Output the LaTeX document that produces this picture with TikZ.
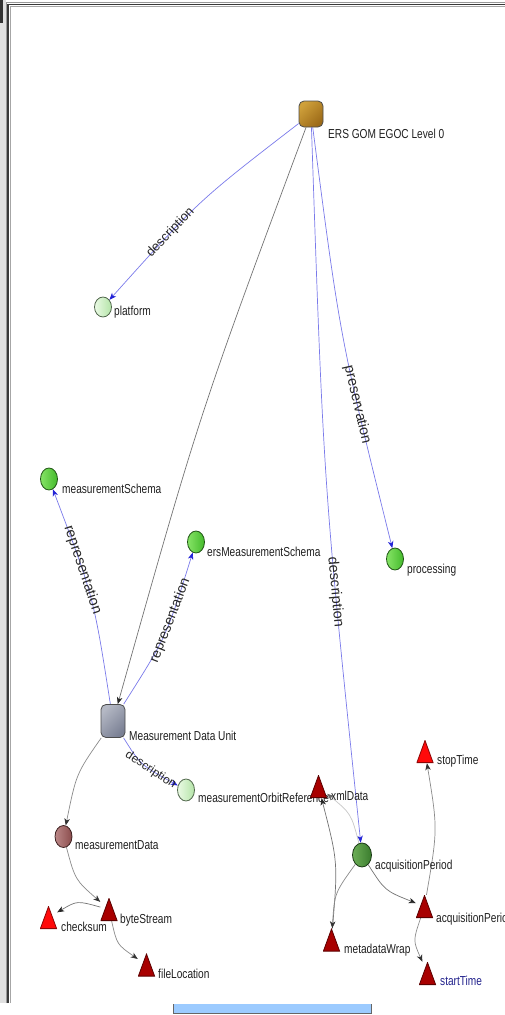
\documentclass[tikz,border=0pt]{standalone}
\usepackage{graphicx}
\usepackage{fontspec}
\setmainfont{Liberation Sans}
\usetikzlibrary{arrows.meta,calc,shapes.geometric}
\pgfdeclarelayer{bg}
\pgfsetlayers{bg,main}
\definecolor{ersA}{HTML}{CFA03A}
\definecolor{ersB}{HTML}{9C6A18}
\definecolor{mduA}{HTML}{B4B8C4}
\definecolor{mduB}{HTML}{7A8094}
\definecolor{lgA}{HTML}{EAFAE4}
\definecolor{lgB}{HTML}{B4E4A8}
\definecolor{gA}{HTML}{86E466}
\definecolor{gB}{HTML}{44BA2C}
\definecolor{dgA}{HTML}{6CAE56}
\definecolor{dgB}{HTML}{3A7C2E}
\definecolor{brA}{HTML}{BC8888}
\definecolor{brB}{HTML}{8A4C4C}
\definecolor{dred}{HTML}{A80000}
\definecolor{bred}{HTML}{FF0A0A}
\definecolor{edgeblue}{HTML}{7A7AEA}
\definecolor{tipblue}{HTML}{2424D6}
\definecolor{edgegray}{HTML}{8A8A8A}
\definecolor{tipgray}{HTML}{333333}
\definecolor{startblue}{HTML}{22228C}
\definecolor{barblue}{HTML}{9CCBFF}
\newcommand{\nlab}[1]{\scalebox{0.78}[1]{#1}}
\begin{document}
\begin{tikzpicture}[x=1pt,y=-1pt,
  qc/.style={to path={.. controls ($(\tikztostart)!0.5!(\tikztotarget)!#1!-90:(\tikztotarget)$) .. (\tikztotarget) \tikztonodes}},
  qc/.default=13pt,
  box/.style 2 args={rectangle, rounded corners=5pt, minimum width=24pt, inner sep=0pt,
    draw=black!70, line width=0.8pt, top color=#1, bottom color=#2, shading angle=45},
  circ/.style 2 args={ellipse, minimum width=17pt, minimum height=22pt, inner sep=0pt,
    draw=#2!45!black, line width=0.8pt, left color=#1, right color=#2},
  tri/.style={rectangle, minimum width=17pt, minimum height=23pt, inner sep=0pt,
    path picture={\filldraw[fill=#1, draw=#1!55!black, line width=0.8pt]
      ([yshift=-0.5pt]path picture bounding box.north)
      -- ([xshift=-0.4pt,yshift=0.4pt]path picture bounding box.south east)
      -- ([xshift=0.4pt,yshift=0.4pt]path picture bounding box.south west) -- cycle;}},
  lab/.style={anchor=base west, inner sep=0pt, font=\fontsize{13}{13}\selectfont, text=black!88},
  elab/.style={sloped, inner sep=0.5pt, font=\fontsize{#1}{#1}\selectfont, text=black!85},
  bluee/.style={draw=edgeblue, line width=0.7pt, -{Stealth[length=7pt,width=5.5pt,inset=2pt,color=tipblue]}},
  graye/.style={draw=edgegray, line width=0.7pt, -{Stealth[length=7pt,width=5.5pt,inset=2pt,color=tipgray]}},
  dgraye/.style={draw=black!55, line width=0.7pt, -{Stealth[length=7pt,width=5.5pt,inset=2pt,color=black!85]}},
  lgraye/.style={draw=black!22, line width=0.7pt, -{Stealth[length=7pt,width=5.5pt,inset=2pt,color=black!60]}}
]
\useasboundingbox (0,0) rectangle (505,1015);
% window frame
\fill[black!12] (0,0) rectangle (5.5,1003);
\fill[black!80] (0,0) rectangle (2.5,23);
\draw[black!40, line width=0.6pt] (6,1003) -- (6,2.5) -- (505,2.5);
\draw[black!78, line width=1.2pt] (8,1003) -- (8,4.6) -- (505,4.6);
\draw[black!35, line width=0.7pt] (10,1003) -- (10,6.8) -- (505,6.8);
\fill[barblue] (173,1004) rectangle (371,1013);
\draw[black!60, line width=0.8pt] (173,1004) -- (173,1013) -- (371,1013) -- (371,1004);
% nodes
\node[box={ersA}{ersB}, minimum height=26pt] (ers) at (311,114) {};
\node[box={mduA}{mduB}, minimum height=33pt] (mdu) at (113,721) {};
\node[circ={lgA}{lgB}, minimum height=20pt] (plat) at (103,307) {};
\node[circ={gA}{gB}] (mS) at (49,479) {};
\node[circ={gA}{gB}] (ersMS) at (196,542) {};
\node[circ={gA}{gB}] (proc) at (395,559) {};
\node[circ={lgA}{lgB}] (mOR) at (186,790) {};
\node[circ={dgA}{dgB}, minimum width=19pt, minimum height=24pt] (apC) at (362,855) {};
\node[circ={brA}{brB}] (mData) at (63.5,836.5) {};
% labels
\node[lab] (ers-l) at (328,138) {\nlab{ERS GOM EGOC Level 0}};
\node[lab] (plat-l) at (114,315) {\nlab{platform}};
\node[lab] (mS-l) at (62,493) {\nlab{measurementSchema}};
\node[lab] (ersMS-l) at (207,556) {\nlab{ersMeasurementSchema}};
\node[lab] (proc-l) at (407,573) {\nlab{processing}};
\node[lab] (mdu-l) at (129,740) {\nlab{Measurement Data Unit}};
\node[lab] (mOR-l) at (198,802) {\nlab{measurementOrbitReference}};
\node[lab] (apC-l) at (375,869) {\nlab{acquisitionPeriod}};
\node[lab] (mData-l) at (75,849) {\nlab{measurementData}};
% triangles
\node[tri=dred] (xml) at (318.5,786.5) {};
\node[tri=bred] (stop) at (425,751.5) {};
\node[tri=dred] (apT) at (424.5,906.5) {};
\node[tri=dred] (mWrap) at (331.5,940) {};
\node[tri=dred] (start) at (427.5,973.5) {};
\node[tri=dred] (bS) at (109,909.5) {};
\node[tri=bred] (cks) at (48.5,917.5) {};
\node[tri=dred] (fLoc) at (146.5,965) {};
\node[lab] (xml-l) at (331,800) {\nlab{xmlData}};
\node[lab] (stop-l) at (437,764) {\nlab{stopTime}};
\node[lab] (apT-l) at (436,922) {\nlab{acquisitionPeriod}};
\node[lab] (mWrap-l) at (344,953) {\nlab{metadataWrap}};
\node[lab, text=startblue] (start-l) at (440,985) {\nlab{startTime}};
\node[lab] (bS-l) at (120,923) {\nlab{byteStream}};
\node[lab] (cks-l) at (61,931) {\nlab{checksum}};
\node[lab] (fLoc-l) at (158,978) {\nlab{fileLocation}};
% connectors
\begin{pgfonlayer}{bg}
\draw[bluee] (ers) to[qc] node[elab=13,pos=.7]{description} (plat);
\draw[dgraye] (ers) to[qc] (mdu);
\draw[bluee] (ers) to[qc] node[elab=14.5,pos=.7]{preservation} (proc);
\draw[bluee] (ers) to[qc] node[elab=14.5,pos=.69]{description} (apC);
\draw[bluee] (mdu) to[qc] node[elab=14.5,pos=.66]{representation} (mS);
\draw[bluee] (mdu) to[qc] node[elab=14,pos=.62]{representation} (ersMS);
\draw[bluee] (mdu) to[qc] node[elab=12,pos=.66]{description} (mOR);
\draw[graye] (mdu) to[qc] (mData);
\draw[graye] (mData) to[qc] (bS);
\draw[dgraye] (bS) to[qc] (cks);
\draw[graye] (bS) to[qc] (fLoc);
\draw[lgraye] (apC) to[qc] (xml);
\draw[dgraye] (mWrap) to[qc] (xml);
\draw[graye] (apC) to[qc] (mWrap);
\draw[dgraye] (apC) to[qc] (apT);
\draw[graye] (apT) to[qc] (stop);
\draw[graye] (apT) to[qc] (start);
\end{pgfonlayer}
\end{tikzpicture}
\end{document}
